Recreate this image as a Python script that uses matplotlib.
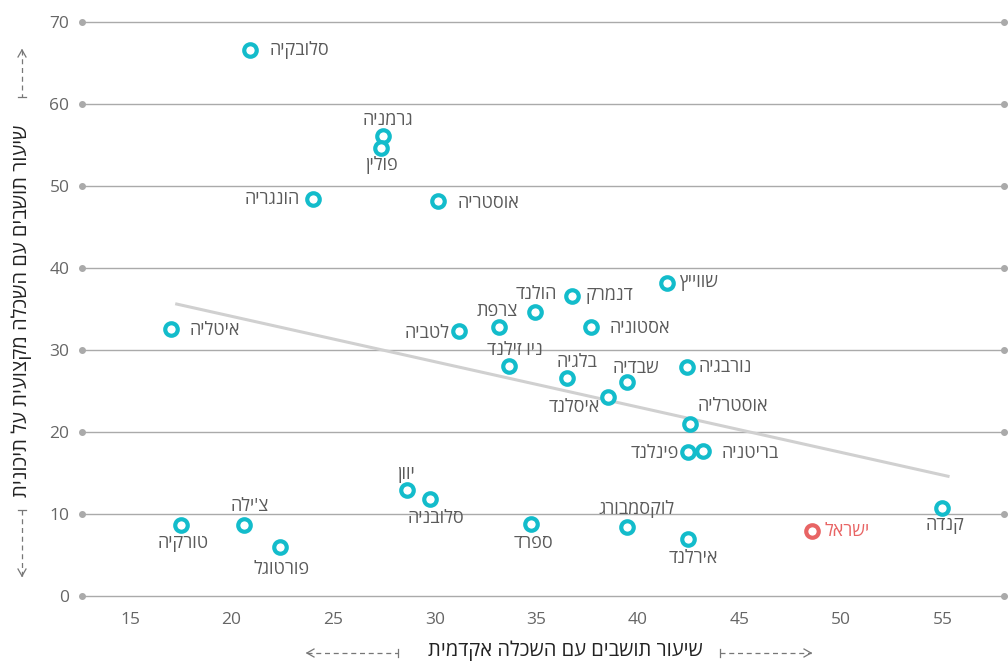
import matplotlib
matplotlib.use("Agg")
import matplotlib.pyplot as plt
from matplotlib.lines import Line2D

plt.rcParams['font.family'] = ['Open Sans', 'DejaVu Sans']

# נתונים: שיעור השכלה אקדמית (x) מול השכלה מקצועית על-תיכונית (y)
countries = ['סלובקיה', 'גרמניה', 'פולין', 'הונגריה', 'אוסטריה', 'שווייץ', 'דנמרק',
             'הולנד', 'צרפת', 'אסטוניה', 'לטביה', 'איטליה', 'ניו זילנד', 'בלגיה',
             'שבדיה', 'נורבגיה', 'איסלנד', 'אוסטרליה', 'פינלנד', 'בריטניה', 'יוון',
             'סלובניה', 'ספרד', 'לוקסמבורג', 'אירלנד', 'ישראל', 'קנדה', 'טורקיה',
             "צ'ילה", 'פורטוגל']
academic = [20.9, 27.45, 27.35, 24.0, 30.15, 41.4, 36.75, 34.95, 33.15, 37.7, 31.2, 17.0,
            33.65, 36.5, 39.45, 42.4, 38.5, 42.55, 42.45, 43.2, 28.65, 29.75, 34.75,
            39.45, 42.45, 48.55, 54.95, 17.5, 20.6, 22.4]
vocational = [66.6, 56.1, 54.6, 48.4, 48.2, 38.2, 36.6, 34.6, 32.8, 32.8, 32.3, 32.6,
              28.0, 26.6, 26.1, 27.9, 24.3, 21.0, 17.6, 17.7, 12.9, 11.8, 8.8,
              8.4, 7.0, 7.9, 10.7, 8.7, 8.7, 6.0]
trend_x = [17.3, 55.25]
trend_y = [35.6, 14.6]
highlight = 'ישראל'

# מיקום התוויות ביחס לנקודה (פיקסלים)
label_pos = {
    'סלובקיה': (20, 0, 'left'), 'גרמניה': (5, 16, 'center'), 'פולין': (0, -17, 'center'),
    'הונגריה': (-13, 0, 'right'), 'אוסטריה': (20, -2, 'left'), 'שווייץ': (12, 1, 'left'),
    'דנמרק': (13, 1, 'left'), 'הולנד': (1, 18, 'center'), 'צרפת': (-2, 16, 'center'),
    'אסטוניה': (18, -1, 'left'), 'לטביה': (-10, -2, 'right'), 'איטליה': (19, -1, 'left'),
    'ניו זילנד': (6, 16, 'center'), 'בלגיה': (10, 16, 'center'), 'שבדיה': (9, 14, 'center'),
    'נורבגיה': (12, 0, 'left'), 'איסלנד': (-8, -10, 'right'), 'אוסטרליה': (8, 18, 'left'),
    'פינלנד': (-9, -1, 'right'), 'בריטניה': (18, -2, 'left'), 'יוון': (-1, 16, 'center'),
    'סלובניה': (6, -19, 'center'), 'ספרד': (2, -19, 'center'), 'לוקסמבורג': (10, 18, 'center'),
    'אירלנד': (5, -19, 'center'), 'ישראל': (13, 0, 'left'), 'קנדה': (3, -17, 'center'),
    'טורקיה': (2, -18, 'center'), "צ'ילה": (6, 19, 'center'), 'פורטוגל': (1, -22, 'center'),
}


def rtl(s):
    # matplotlib מצייר משמאל לימין, לכן הופכים את סדר האותיות
    return s[::-1]


W, H = 1008, 668
fig = plt.figure(figsize=(W / 100, H / 100), dpi=100)
ax = fig.add_axes([82 / W, 1 - 606 / H, (1008 - 82) / W, (606 - 10) / H])
ax.set_xlim(12.64, 58.2)
ax.set_ylim(-1.22, 71.46)
for s in ax.spines.values():
    s.set_visible(False)

grid_c = '#aaaaaa'
for yv in range(0, 80, 10):
    ax.axhline(yv, color=grid_c, lw=1, zorder=1)
    ax.plot([12.64, 58.0], [yv, yv], 'o', color=grid_c, ms=4, clip_on=False, zorder=1)

ax.set_yticks(range(0, 80, 10))
ax.set_xticks(range(15, 60, 5))
ax.tick_params(length=0, labelsize=12.5, colors='#666666')
ax.tick_params(axis='y', pad=9)
ax.tick_params(axis='x', pad=4)

# קו מגמה
ax.plot(trend_x, trend_y, color='#d0d0d0', lw=2.2, zorder=2)

for name, xv, yv in zip(countries, academic, vocational):
    col = '#e86464' if name == highlight else '#13bccb'
    ax.plot(xv, yv, 'o', ms=9, mfc='white', mec=col, mew=3, zorder=4)
    dx, dy, ha = label_pos[name]
    ax.annotate(rtl(name), (xv, yv), xytext=(dx, dy), textcoords='offset pixels',
                ha=ha, va='center', fontsize=13,
                color='#e86464' if name == highlight else '#5a5a5a', zorder=5)

# כותרות צירים עם חצים מקווקווים
fig.text(565 / W, 1 - 651 / H, rtl('שיעור תושבים עם השכלה אקדמית'),
         ha='center', va='center', fontsize=14.5, color='#222222')
fig.text(22 / W, 1 - 311 / H, rtl('שיעור תושבים עם השכלה מקצועית על תיכונית'),
         ha='center', va='center', rotation=90, fontsize=14.5, color='#222222')

arr_c = '#777777'


def px(x, y):
    return x / W, 1 - y / H


def dashed(x0, y0, x1, y1):
    a, b = px(x0, y0)
    c, d = px(x1, y1)
    fig.add_artist(Line2D([a, c], [b, d], color=arr_c, lw=0.9, ls=(0, (4, 3))))


def solid(x0, y0, x1, y1):
    a, b = px(x0, y0)
    c, d = px(x1, y1)
    fig.add_artist(Line2D([a, c], [b, d], color=arr_c, lw=0.9))


# חץ שמאלי (אופקי)
dashed(307, 653, 398, 653)
solid(307, 653, 314, 649)
solid(307, 653, 314, 657)
solid(398, 649, 398, 657)
# חץ ימני (אופקי)
dashed(720, 653, 811, 653)
solid(811, 653, 804, 649)
solid(811, 653, 804, 657)
solid(720, 649, 720, 657)
# חץ עליון (אנכי)
dashed(22, 50, 22, 97)
solid(22, 50, 18, 57)
solid(22, 50, 26, 57)
solid(18, 97, 26, 97)
# חץ תחתון (אנכי)
dashed(22, 510, 22, 576)
solid(22, 576, 18, 569)
solid(22, 576, 26, 569)
solid(18, 510, 26, 510)

fig.savefig('out.png', dpi=100)
